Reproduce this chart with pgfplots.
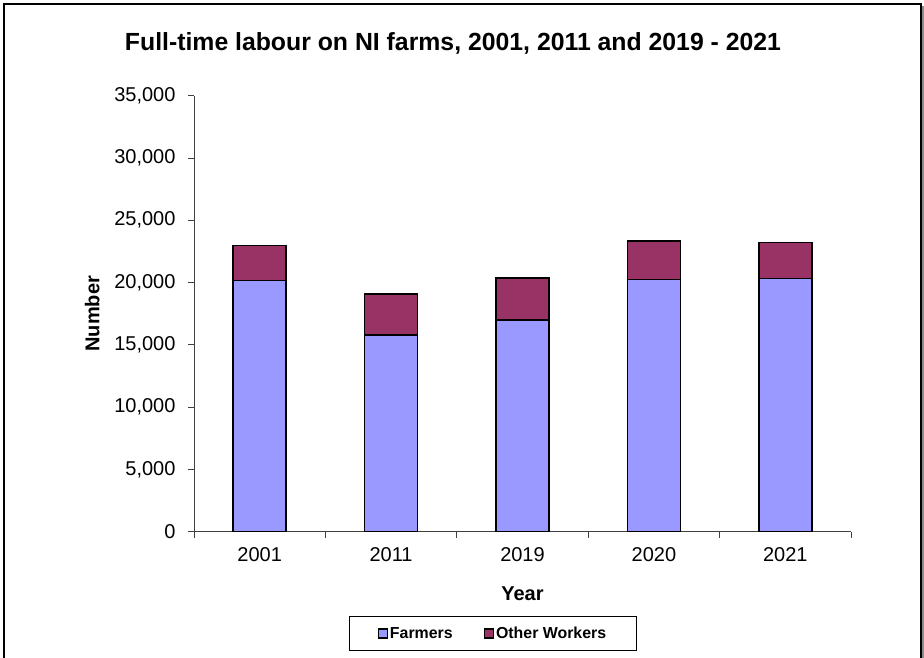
\documentclass[border=0pt]{standalone}
\usepackage{fontspec}
\setmainfont{Liberation Sans}
\usepackage{pgfplots}
\pgfplotsset{compat=1.18}
\definecolor{farm}{HTML}{9999FF}
\definecolor{other}{HTML}{993366}
\begin{document}
\begin{tikzpicture}
\useasboundingbox (-194pt,-126.3pt) rectangle (730pt,531.7pt);
\fill[white] (-194pt,-126.3pt) rectangle (730pt,531.7pt);
\draw[black!45, line width=2pt] (729pt,-140pt) -- (729pt,526pt);
\draw[black, line width=1.4pt] (-190pt,-140pt) -- (-190pt,527.7pt) -- (727pt,527.7pt) -- (727pt,-140pt);
\node[font=\bfseries\fontsize{24.8}{28}\selectfont] at (259pt,488pt) {Full-time labour on NI farms, 2001, 2011 and 2019 - 2021};
\begin{axis}[
  at={(0pt,0pt)}, anchor=south west,
  scale only axis, width=657pt, height=436pt,
  ybar stacked, bar width=53pt,
  xmin=-0.5, xmax=4.5, ymin=0, ymax=35000,
  xtick={-0.5,0.5,1.5,2.5,3.5,4.5},
  xticklabels={2001,2011,2019,2020,2021},
  x tick label as interval,
  ytick={0,5000,10000,15000,20000,25000,30000,35000},
  scaled y ticks=false,
  /pgf/number format/assume math mode=true,
  yticklabel style={/pgf/number format/1000 sep={,}},
  axis x line*=bottom, axis y line*=left,
  axis line style={black!75, line width=0.8pt, -},
  tick style={black!75, line width=0.8pt},
  tick align=outside, major tick length=6pt,
  ticklabel style={font=\fontsize{20}{24}\selectfont},
  xticklabel style={yshift=-6pt},
  yticklabel style={xshift=-9pt},
  xlabel={\bfseries Year}, ylabel={\bfseries Number},
  label style={font=\bfseries\fontsize{20}{24}\selectfont},
  xlabel style={at={(axis description cs:0.5,-0.142)}, anchor=center},
  ylabel style={at={(axis description cs:-0.155,0.5)}, anchor=center},
  legend columns=2,
  legend style={at={(0.455,-0.2335)}, anchor=center, draw=black, line width=1pt,
    font=\bfseries\fontsize{15.9}{18}\selectfont,
    inner xsep=28pt, inner ysep=8pt,
    nodes={inner xsep=2pt},
    /tikz/every even column/.append style={column sep=29pt}},
  legend image code/.code={\draw[#1, line width=1.3pt] (0pt,-4.5pt) rectangle (9pt,4.5pt);},
]
\addplot[fill=farm, draw=black, line width=1.6pt] coordinates {(0,20150) (1,15810) (2,16970) (3,20230) (4,20310)};
\addplot[fill=other, draw=black, line width=1.6pt] coordinates {(0,2810) (1,3290) (2,3400) (3,3100) (4,2890)};
\legend{Farmers, Other Workers}
\end{axis}
\end{tikzpicture}
\end{document}
